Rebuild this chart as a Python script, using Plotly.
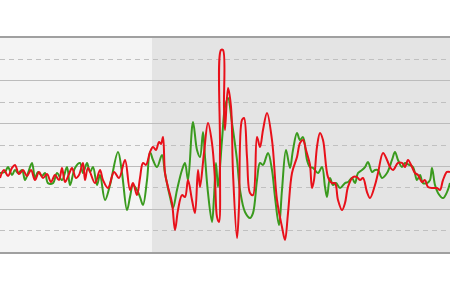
import plotly.graph_objects as go

# time positions and values (value axis 0..100)
red_t = [0,4,8,12,15,19,23,27,31,35,39,43,47,51,55,59,62,65,69,72,76,79,83,85,88,95,100,103,108,114,119,125,130,133,137,140,143,146,150,153,156,159,161,163,165,168,172,175,178,182,185,188,192,195,198,200,204,208,212,215,217,219,220,221,223,224,225,228,231,233,237,239,242,244,247,250,253,257,260,263,267,272,277,282,285,288,292,297,300,303,306,308,310,312,314,317,320,323,328,332,335,338,342,345,348,353,357,360,363,367,370,375,378,383,387,390,393,398,402,405,408,412,415,418,422,425,428,433,437,440,443,447,450]
red_v = [34.6,38.3,35.5,39.3,40.7,36.4,38.3,35.5,38.3,33.6,37.4,34.6,36.4,32.7,36.0,33.6,39.3,32.7,36.4,39.3,34.6,36.0,41.6,33.6,39.3,32.2,38.3,33.6,29.9,37.4,34.6,43.0,29.0,32.2,26.6,34.6,41.6,40.7,46.7,49.1,47.7,51.4,50.5,53.7,36.9,30.4,22.9,10.3,19.6,26.6,25.7,33.6,24.3,18.2,38.3,30.4,46.3,60.3,50.9,33.6,16.4,14.0,47.7,94.4,94.4,67.8,57.0,76.6,67.8,36.9,6.5,21.0,61.7,62.6,44.4,27.6,26.6,53.7,49.1,57.0,65.0,52.3,24.3,11.7,5.6,18.2,36.9,44.4,50.9,52.3,47.7,44.4,40.7,29.9,33.6,49.1,55.6,52.3,35.0,32.2,32.2,24.3,19.6,22.9,30.4,35.0,35.0,33.6,34.6,28.0,25.2,31.3,36.9,46.3,43.0,39.7,38.3,41.6,41.6,39.7,43.0,39.7,36.9,36.0,32.7,33.6,30.4,29.9,29.9,29.0,33.6,37.4,37.4]

green_t = [0,5,8,12,15,18,22,25,28,32,35,38,42,45,48,53,57,62,67,70,75,80,83,87,90,93,97,100,105,110,118,122,127,130,133,137,140,143,147,150,153,157,162,165,170,173,177,182,185,188,193,197,200,203,205,208,212,214,216,218,222,225,228,232,237,240,245,250,253,257,260,263,268,272,275,279,282,286,290,293,297,300,303,307,310,313,318,322,325,327,330,333,336,340,345,348,352,355,358,362,365,368,372,375,378,382,387,392,395,398,402,405,409,413,417,420,423,427,430,432,435,438,443,447,450]
green_v = [36.9,37.4,39.7,36.0,38.3,36.9,38.3,33.6,36.9,41.6,34.6,37.4,35.5,36.9,32.2,32.2,36.9,33.6,39.7,31.3,39.3,41.6,36.9,41.6,37.4,39.7,31.3,36.0,24.3,31.3,46.7,36.9,19.6,25.7,31.3,29.0,25.7,22.0,33.6,46.7,43.0,39.7,45.3,36.9,25.7,20.6,29.0,38.3,41.6,33.6,60.7,47.7,44.4,56.1,44.4,27.6,14.0,25.7,41.6,30.4,52.3,67.8,72.0,60.3,43.0,29.0,18.7,15.9,18.2,33.6,41.6,40.7,46.3,38.3,25.7,12.6,29.0,47.7,39.3,47.7,55.6,52.3,53.7,43.0,39.7,39.3,36.9,39.7,30.4,25.7,34.6,31.3,32.2,29.9,32.2,32.7,34.6,32.2,36.9,38.3,39.7,42.1,37.4,38.3,38.3,34.6,36.9,43.0,46.7,43.0,39.7,41.6,40.7,39.7,33.6,36.0,32.2,32.2,33.6,39.3,31.3,27.6,25.2,28.0,32.2]

# shaded left band extent (time)
band_end = 152

fig = go.Figure()
fig.add_trace(go.Scatter(x=green_t, y=green_v, mode="lines",
                         line=dict(color="#3a9a1e", width=2, shape="spline", smoothing=1.0),
                         hoverinfo="skip"))
fig.add_trace(go.Scatter(x=red_t, y=red_v, mode="lines",
                         line=dict(color="#e8101a", width=2, shape="spline", smoothing=1.0),
                         hoverinfo="skip"))

fig.add_shape(type="rect", xref="x", yref="paper", x0=0, x1=band_end, y0=0, y1=1,
              fillcolor="#f4f4f4", line=dict(width=0), layer="below")

fig.update_layout(
    width=450, height=300,
    margin=dict(l=0, r=0, t=38, b=48),
    paper_bgcolor="#ffffff",
    plot_bgcolor="#e4e4e4",
    showlegend=False,
)
fig.update_xaxes(range=[0, 450], showgrid=False, zeroline=False, showticklabels=False,
                 ticks="", showline=True, mirror=True, linecolor="#a0a0a0", linewidth=2)
fig.update_yaxes(range=[0, 100], dtick=20, tick0=0, showgrid=True, gridcolor="#bcbcbc",
                 gridwidth=1, zeroline=False, showticklabels=False, ticks="", showline=False,
                 minor=dict(dtick=10, tick0=0, showgrid=True, gridcolor="#c0c0c0",
                            griddash="5px,4px", gridwidth=1))

fig.write_html("out.html")
